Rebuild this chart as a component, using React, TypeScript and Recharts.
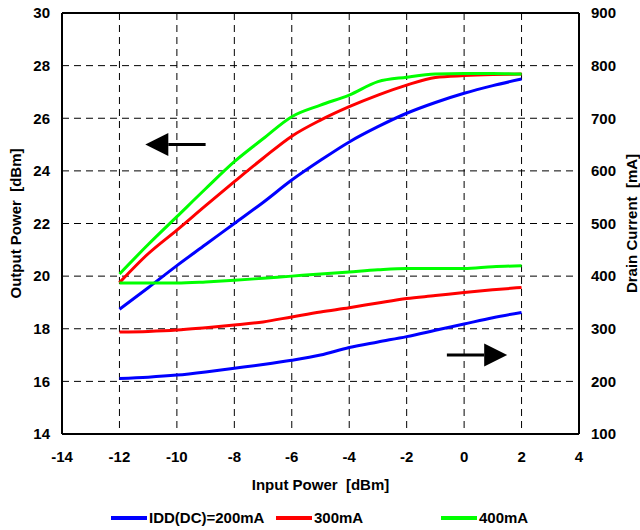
import React from 'react';
import { CartesianGrid, Legend, Line, LineChart, ReferenceLine, XAxis, YAxis } from 'recharts';

const inputPower = [-12, -11, -10, -9, -8, -7, -6, -5, -4, -3, -2, -1, 0, 1, 2];

// output power [dBm], left axis
const pout200 = [18.74, 19.56, 20.4, 21.2, 22.0, 22.8, 23.65, 24.4, 25.1, 25.68, 26.19, 26.6, 26.95, 27.24, 27.49];
const pout300 = [19.75, 20.85, 21.75, 22.68, 23.59, 24.48, 25.32, 25.93, 26.44, 26.88, 27.26, 27.55, 27.62, 27.66, 27.68];
const pout400 = [20.08, 21.2, 22.26, 23.32, 24.35, 25.22, 26.06, 26.5, 26.88, 27.39, 27.56, 27.68, 27.7, 27.7, 27.68];

// drain current [mA], right axis
const idd200 = [205.5, 208, 212, 218, 225, 232, 240, 250, 264.5, 275, 285, 297, 309, 321, 331];
const idd300 = [294, 295, 297.5, 302, 307, 313, 322.5, 332, 340, 349, 357.5, 363, 369, 374, 378.5];
const idd400 = [387, 387, 387, 389, 392, 396, 400, 404, 408, 412, 414.5, 414.5, 414.5, 418, 419.5];

const seriesNames = ['IDD(DC)=200mA', '300mA', '400mA'];

const xTicks = [-14, -12, -10, -8, -6, -4, -2, 0, 2, 4];
const leftTicks = [14, 16, 18, 20, 22, 24, 26, 28, 30];
const rightTicks = [100, 200, 300, 400, 500, 600, 700, 800, 900];

const data = inputPower.map((p, i) => ({
  pin: p,
  pout200: pout200[i],
  pout300: pout300[i],
  pout400: pout400[i],
  idd200: idd200[i],
  idd300: idd300[i],
  idd400: idd400[i],
}));

const FONT = '"Liberation Sans", Arial, sans-serif';
const tickStyle = { fill: '#000', fontSize: 15, fontWeight: 'bold' as const };
const titleStyle = { fill: '#000', fontSize: 15, fontWeight: 'bold' as const, textAnchor: 'middle' as const };

const Arrow = (props: any) => {
  const { x1, y1, x2, y2 } = props;
  const dir = x2 > x1 ? 1 : -1;
  const headLen = 23;
  const half = 11.5;
  const baseX = x2 - dir * headLen;
  return (
    <g>
      <line x1={x1} y1={y1} x2={baseX} y2={y2} stroke="#000" strokeWidth={3} />
      <polygon points={`${x2},${y2} ${baseX},${y2 - half} ${baseX},${y2 + half}`} fill="#000" />
    </g>
  );
};

const LegendContent = (props: any) => {
  const payload = props.payload || [];
  const items = seriesNames
    .map((n) => payload.find((p: any) => p.value === n))
    .filter(Boolean);
  return (
    <div style={{ display: 'flex', paddingLeft: 111, fontFamily: FONT }}>
      {items.map((it: any) => (
        <div key={it.value} style={{ width: 165, display: 'flex', alignItems: 'center' }}>
          <span style={{ display: 'inline-block', width: 36, height: 4, background: it.color, marginRight: 2 }} />
          <span style={{ fontSize: 15, fontWeight: 'bold', color: '#000' }}>{it.value}</span>
        </div>
      ))}
    </div>
  );
};

const App = () => {
  return (
    <div style={{ position: 'absolute', left: 0, top: 0 }}>
      <LineChart
        width={640}
        height={530}
        data={data}
        margin={{ top: 13, right: 0, bottom: 0, left: 0 }}
        style={{ fontFamily: FONT }}
      >
        <CartesianGrid yAxisId="left" stroke="#000" strokeDasharray="7 5" />
        <XAxis
          dataKey="pin"
          type="number"
          domain={[-14, 4]}
          ticks={xTicks}
          height={96}
          tick={tickStyle}
          tickLine={false}
          tickSize={0}
          tickMargin={17}
          axisLine={{ stroke: '#000', strokeWidth: 2 }}
          label={{ value: 'Input Power \u00A0[dBm]', position: 'insideTop', offset: 45, style: titleStyle }}
        />
        <YAxis
          yAxisId="left"
          domain={[14, 30]}
          ticks={leftTicks}
          width={62}
          tick={tickStyle}
          tickLine={false}
          tickSize={0}
          tickMargin={12}
          axisLine={{ stroke: '#000', strokeWidth: 2 }}
          label={{ value: 'Output Power \u00A0[dBm]', angle: -90, position: 'insideLeft', offset: 16, style: titleStyle }}
        />
        <YAxis
          yAxisId="right"
          orientation="right"
          domain={[100, 900]}
          ticks={rightTicks}
          width={61}
          tick={tickStyle}
          tickLine={false}
          tickSize={0}
          tickMargin={12}
          axisLine={{ stroke: '#000', strokeWidth: 2 }}
          label={{ value: 'Drain Current \u00A0[mA]', angle: -90, position: 'insideRight', offset: 8, style: titleStyle }}
        />
        <ReferenceLine yAxisId="left" y={30} stroke="#000" strokeWidth={2} />
        <Line yAxisId="left" type="monotone" dataKey="pout200" name={seriesNames[0]} stroke="#0000FF" strokeWidth={3} dot={false} isAnimationActive={false} />
        <Line yAxisId="left" type="monotone" dataKey="pout300" name={seriesNames[1]} stroke="#FF0000" strokeWidth={3} dot={false} isAnimationActive={false} />
        <Line yAxisId="left" type="monotone" dataKey="pout400" name={seriesNames[2]} stroke="#00FF00" strokeWidth={3} dot={false} isAnimationActive={false} />
        <Line yAxisId="right" type="monotone" dataKey="idd200" stroke="#0000FF" strokeWidth={3} dot={false} legendType="none" isAnimationActive={false} />
        <Line yAxisId="right" type="monotone" dataKey="idd300" stroke="#FF0000" strokeWidth={3} dot={false} legendType="none" isAnimationActive={false} />
        <Line yAxisId="right" type="monotone" dataKey="idd400" stroke="#00FF00" strokeWidth={3} dot={false} legendType="none" isAnimationActive={false} />
        <ReferenceLine
          yAxisId="left"
          segment={[{ x: -9, y: 25 }, { x: -11.1, y: 25 }]}
          shape={Arrow}
        />
        <ReferenceLine
          yAxisId="right"
          segment={[{ x: -0.6, y: 250 }, { x: 1.5, y: 250 }]}
          shape={Arrow}
        />
        <Legend
          layout="horizontal"
          verticalAlign="middle"
          align="center"
          wrapperStyle={{ top: 509, left: 0, width: 640 }}
          content={LegendContent}
        />
      </LineChart>
    </div>
  );
};

export default App;
